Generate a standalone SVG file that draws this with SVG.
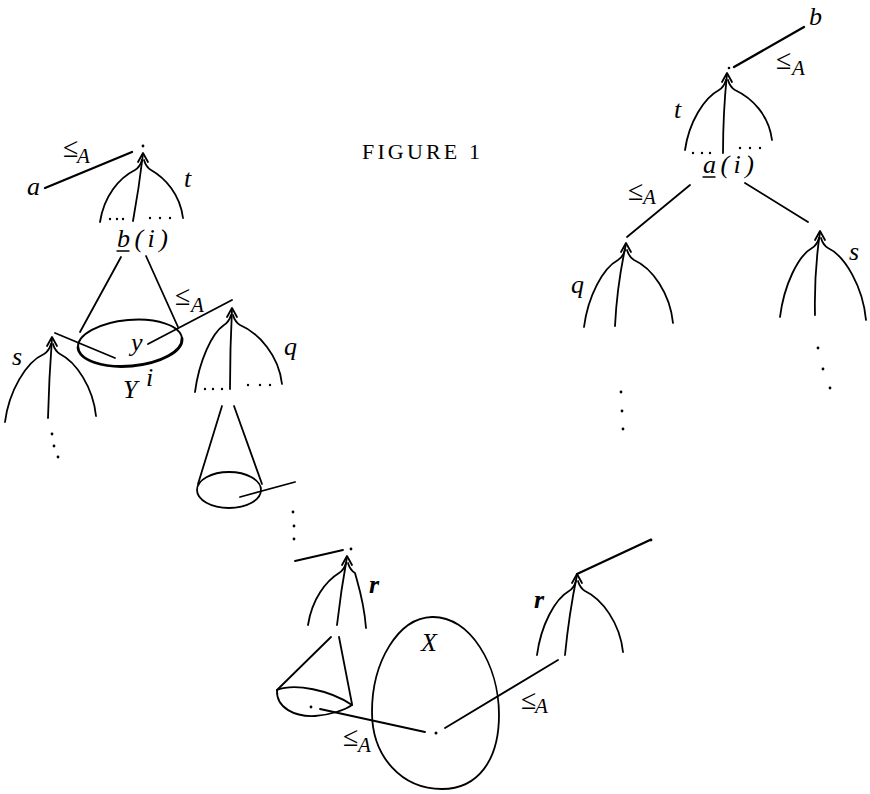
<svg xmlns="http://www.w3.org/2000/svg" width="870" height="794" viewBox="0 0 870 794">
<style>
.ln{fill:none;stroke:#000;stroke-width:1.8;stroke-linecap:round;stroke-linejoin:round}
.thk{stroke-width:2.3}
.dot{fill:#000}
.it{font-family:"Liberation Serif","DejaVu Serif",serif;font-style:italic;font-size:26px;fill:#000}
.le{font-family:"Liberation Serif","DejaVu Serif",serif;font-size:28px;fill:#000}
.sub{font-family:"Liberation Serif","DejaVu Serif",serif;font-style:italic;font-size:21px;fill:#000}
.ttl{font-family:"Liberation Serif","DejaVu Serif",serif;font-size:22px;fill:#000}
</style>
<rect width="870" height="794" fill="#fff"/>

<text class="ttl" x="362" y="159" textLength="118" lengthAdjust="spacing">FIGURE 1</text>

<g id="tree-t-left" class="ln">
<path d="M100,222 C104,196 119,178 135,170 Q140,167 142,160"/>
<path d="M183,218 C180,194 165,178 151,170 Q146,167 144,160"/>
<path d="M133,221 Q139,188 143,154"/>
<path d="M138,162 L143,153 L148,162"/>
</g>
<g id="dots-t-left" class="dot">
<circle cx="110" cy="219" r="1.2"/><circle cx="117" cy="219" r="1.2"/><circle cx="123" cy="219" r="1.2"/>
<circle cx="150" cy="218" r="1.2"/><circle cx="160" cy="218" r="1.2"/><circle cx="170" cy="218" r="1.2"/>
</g>

<g id="tree-s-left" class="ln">
<path d="M5,422 C9,391 26,362 44,354 Q49,351 51,344"/>
<path d="M96,416 C93,387 76,362 60,354 Q55,351 53,344"/>
<path d="M48,418 Q49,378 52,338"/>
<path d="M47,346 L52,337 L57,346"/>
</g>
<g id="dots-s-left" class="dot">
<circle cx="52" cy="434" r="1.4"/><circle cx="54" cy="446" r="1.4"/><circle cx="58" cy="457" r="1.4"/>
</g>

<g id="tree-q-left" class="ln">
<path d="M195,392 C199,361 212,333 224,325 Q229,322 231,315"/>
<path d="M282,384 C279,356 259,333 240,325 Q235,322 233,315"/>
<path d="M230,389 Q230,348 232,309"/>
<path d="M227,317 L232,308 L237,317"/>
</g>
<g id="dots-q-left" class="dot">
<circle cx="205" cy="389" r="1.2"/><circle cx="213" cy="389" r="1.2"/><circle cx="222" cy="389" r="1.2"/>
<circle cx="248" cy="385" r="1.2"/><circle cx="260" cy="385" r="1.2"/><circle cx="270" cy="385" r="1.2"/>
</g>

<g id="tree-r-left" class="ln">
<path d="M308,625 C312,599 326,581 339,573 Q344,570 346,563"/>
<path d="M366,628 C364,601 357,581 355,573 Q350,570 348,563"/>
<path d="M337,625 Q341,590 347,557"/>
<path d="M342,565 L347,556 L352,565"/>
</g>

<g id="tree-r-right" class="ln">
<path d="M537,655 C541,625 555,599 569,591 Q574,588 576,581"/>
<path d="M623,652 C620,623 602,599 585,591 Q580,588 578,581"/>
<path d="M565,655 Q569,614 577,575"/>
<path d="M572,583 L577,574 L582,583"/>
</g>

<g id="tree-t-right" class="ln">
<path d="M685,150 C689,122 704,98 719,90 Q724,87 726,80"/>
<path d="M772,140 C769,115 752,98 735,90 Q730,87 728,80"/>
<path d="M723,153 Q723,113 727,74"/>
<path d="M722,82 L727,73 L732,82"/>
</g>
<g id="dots-t-right" class="dot">
<circle cx="693" cy="153" r="1.2"/><circle cx="702" cy="153" r="1.2"/><circle cx="710" cy="153" r="1.2"/>
<circle cx="740" cy="148" r="1.2"/><circle cx="750" cy="148" r="1.2"/><circle cx="760" cy="148" r="1.2"/>
</g>

<g id="tree-q-right" class="ln">
<path d="M584,327 C588,296 603,268 618,260 Q623,257 625,250"/>
<path d="M673,323 C670,293 652,268 634,260 Q629,257 627,250"/>
<path d="M615,326 Q617,285 626,244"/>
<path d="M621,252 L626,243 L631,252"/>
</g>
<g id="dots-q-right" class="dot">
<circle cx="621" cy="392" r="1.4"/><circle cx="622" cy="411" r="1.4"/><circle cx="623" cy="429" r="1.4"/>
</g>

<g id="tree-s-right" class="ln">
<path d="M780,317 C784,285 798,256 812,248 Q817,245 819,238"/>
<path d="M866,320 C863,287 845,256 828,248 Q823,245 821,238"/>
<path d="M815,315 Q814,273 820,232"/>
<path d="M815,240 L820,231 L825,240"/>
</g>
<g id="dots-s-right" class="dot">
<circle cx="818" cy="348" r="1.4"/><circle cx="823" cy="369" r="1.4"/><circle cx="830" cy="388" r="1.4"/>
</g>

<g id="set-Yi" class="ln">
<path d="M78,347.5 A52,23 -5 0 1 182,338.5"/>
<path d="M182,338.5 A52,23 -5 0 1 78,347.5" style="stroke-width:2.8"/>
</g>

<g id="cone-q" class="ln">
<path d="M222,406 L198,484"/>
<path d="M234,406 L262,484"/>
<ellipse cx="229" cy="490" rx="32" ry="18"/>
</g>

<g id="cone-r" class="ln">
<path d="M331,637 L277,690"/>
<path d="M339,637 L352,704"/>
<path d="M277,690 C295,683 330,690 352,705"/>
<path d="M277,690 C276,708 295,717 315,716 C330,715 345,710 352,705"/>
</g>

<g id="set-X" class="ln">
<path d="M432,617 C470,616 499,665 499,715 C499,760 478,789 442,789 C402,789 372,757 372,712 C372,662 398,618 432,617 Z"/>
</g>

<g id="connectors" class="ln">
<path class="thk" d="M45,188 L132,152"/>
<path class="thk" d="M804,27 L734,67"/>
<path d="M121,257 L80,332"/>
<path d="M146,256 L178,327"/>
<path d="M55,333 L115,358"/>
<path d="M148,344 L232,300"/>
<path d="M240,497 L295,482"/>
<path d="M295,561 L343,550"/>
<path d="M320,709 L425,732"/>
<path d="M445,728 L558,660"/>
<path class="thk" d="M577,574 L650,540"/>
<path d="M690,185 L627,237"/>
<path d="M745,183 L808,222"/>
</g>

<g id="points" class="dot">
<circle cx="143" cy="146" r="1.4"/>
<circle cx="729" cy="68" r="1.3"/>
<circle cx="351" cy="549" r="1.4"/>
<circle cx="651" cy="540" r="1.4"/>
<circle cx="311" cy="707" r="1.4"/>
<circle cx="436" cy="733" r="1.5"/>
<circle cx="293" cy="512" r="1.4"/><circle cx="294" cy="526" r="1.4"/><circle cx="294" cy="539" r="1.4"/>
</g>

<g id="labels">
<text class="it" x="27" y="195">a</text>
<text class="it" x="184" y="187">t</text>
<text class="it" x="117" y="247" font-size="23" textLength="51" lengthAdjust="spacing">b(i)</text>
<path class="ln" d="M117,251 L129,251" style="stroke-width:1.4"/>
<text class="it" x="131" y="351" font-size="24">y</text>
<text class="it" x="123" y="398" font-size="27">Y</text>
<text class="it" x="146" y="386" font-size="19">i</text>
<text class="it" x="12" y="365">s</text>
<text class="it" x="284" y="355">q</text>
<text class="it" x="369" y="593" font-size="22" font-weight="bold">r</text>
<text class="it" x="421" y="651" font-size="23">X</text>
<text class="it" x="534" y="608" font-size="22" font-weight="bold">r</text>
<text class="it" x="809" y="25" font-size="23">b</text>
<text class="it" x="674" y="118">t</text>
<text class="it" x="703" y="173" font-size="23" textLength="51" lengthAdjust="spacing">a(i)</text>
<path class="ln" d="M703,177 L715,177" style="stroke-width:1.4"/>
<text class="it" x="571" y="293">q</text>
<text class="it" x="849" y="260">s</text>

<text class="le" x="63" y="157">≤</text><text class="sub" x="77" y="163">A</text>
<text class="le" x="175" y="305">≤</text><text class="sub" x="191" y="312">A</text>
<text class="le" x="776" y="69">≤</text><text class="sub" x="792" y="75">A</text>
<text class="le" x="628" y="200">≤</text><text class="sub" x="643" y="204">A</text>
<text class="le" x="343" y="746">≤</text><text class="sub" x="358" y="752">A</text>
<text class="le" x="521" y="709">≤</text><text class="sub" x="535" y="713">A</text>
</g>
</svg>
